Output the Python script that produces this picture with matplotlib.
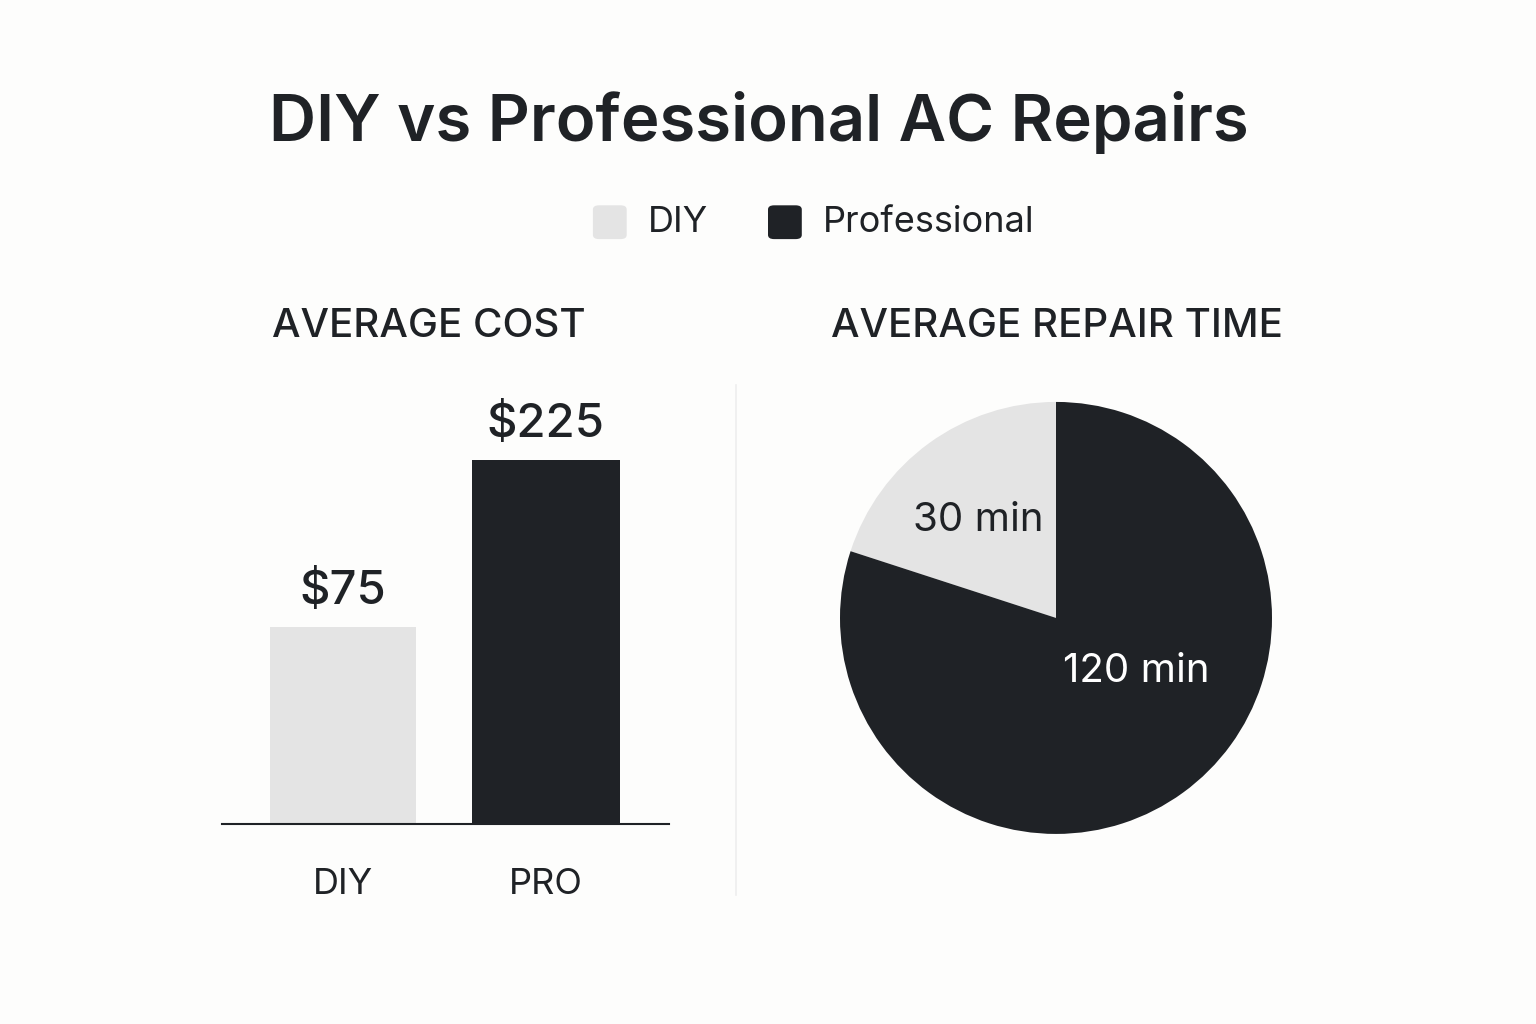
import matplotlib
matplotlib.use("Agg")
import matplotlib.pyplot as plt
from matplotlib.patches import FancyBboxPatch
import numpy as np

categories = ["DIY", "PRO"]
costs = [75, 225]
cost_labels = ["$75", "$225"]
times = [30, 120]
time_labels = ["30 min", "120 min"]
legend_labels = ["DIY", "Professional"]

light = "#e4e4e4"
dark = "#1f2226"
bg = "#fdfdfc"
plt.rcParams['font.family'] = ['Inter', 'DejaVu Sans']

fig = plt.figure(figsize=(15.36, 10.24), dpi=100, facecolor=bg)
fig.text(0.494, 0.88, "DIY vs Professional AC Repairs", ha="center", va="center",
         fontsize=47, fontweight="semibold", color=dark)

# legend
for x, lab, c in [(0.397, legend_labels[0], light), (0.511, legend_labels[1], dark)]:
    fig.patches.append(FancyBboxPatch((x - 0.011, 0.783 - 0.0165), 0.022, 0.033,
                                      boxstyle="round,pad=0,rounding_size=0.004",
                                      transform=fig.transFigure, facecolor=c, edgecolor="none"))
    fig.text(x + 0.025, 0.783, lab, ha="left", va="center", fontsize=26, color=dark)

fig.text(0.279, 0.681, "AVERAGE COST", ha="center", va="center", fontsize=29,
         fontweight="medium", color=dark)
fig.text(0.688, 0.681, "AVERAGE REPAIR TIME", ha="center", va="center", fontsize=29,
         fontweight="medium", color=dark)

# bar chart
ax = fig.add_axes([0.1445, 0.1953, 0.291, 0.4336])
ax.set_facecolor(bg)
base = -102
ax.bar([0, 1], [v - base for v in costs], bottom=base, width=[0.72, 0.73],
       color=[light, dark])
ax.set_xlim(-0.596, 1.606)
ax.set_ylim(base, 297)
for i, (v, lab) in enumerate(zip(costs, cost_labels)):
    ax.text(i, v + 12, lab, ha="center", va="bottom", fontsize=34,
            fontweight="medium", color=dark)
for s in ["top", "right", "left"]:
    ax.spines[s].set_visible(False)
ax.spines["bottom"].set_color(dark)
ax.spines["bottom"].set_linewidth(1.5)
ax.set_yticks([])
ax.set_xticks([0, 1])
ax.set_xticklabels(categories, fontsize=26, color=dark)
ax.tick_params(axis="x", length=0, pad=32)

# divider
fig.add_artist(plt.Line2D([0.479, 0.479], [0.126, 0.624], color="#eeeeee", lw=1.2))

# pie
pax = fig.add_axes([0.6875 - 0.140625, 0.3965 - 0.2109, 0.28125, 0.4219])
wedges, _ = pax.pie(times, colors=[light, dark], startangle=90, counterclock=True,
                    wedgeprops=dict(linewidth=0))
pax.set_xlim(-1, 1)
pax.set_ylim(-1, 1)
pax.set_aspect("equal")
for (px, py), lab, c in zip([(-0.36, 0.45), (0.37, -0.25)], time_labels, [dark, "white"]):
    pax.text(px, py, lab, ha="center", va="center", fontsize=29, color=c)

fig.savefig("out.png", dpi=100, facecolor=bg)
